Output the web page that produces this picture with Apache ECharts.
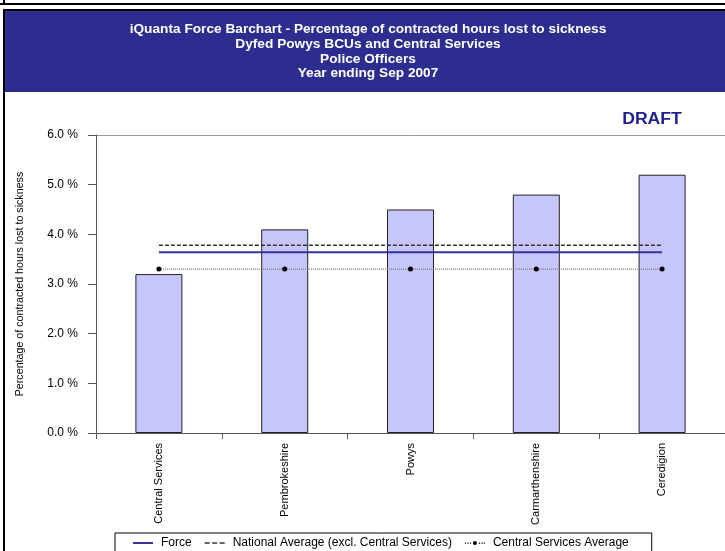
<!DOCTYPE html>
<html><head><meta charset="utf-8">
<script src="https://cdn.jsdelivr.net/npm/echarts@6/dist/echarts.min.js"></script>
<style>html,body{margin:0;padding:0;background:#fff;}#c{width:725px;height:551px;}</style>
</head><body><div id="c"></div>
<script>
const categories = ['Central Services', 'Pembrokeshire', 'Powys', 'Carmarthenshire', 'Ceredigion'];
const sicknessPct = [3.2, 4.1, 4.5, 4.8, 5.2];
const forceAvg = [3.64, 3.64, 3.64, 3.64, 3.64];
const nationalAvg = [3.78, 3.78, 3.78, 3.78, 3.78];
const centralAvg = [3.3, 3.3, 3.3, 3.3, 3.3];
const yTicks = [0, 1, 2, 3, 4, 5, 6];
const titleLines = ['iQuanta Force Barchart - Percentage of contracted hours lost to sickness', 'Dyfed Powys BCUs and Central Services', 'Police Officers', 'Year ending Sep 2007'];

const FONT = '"Liberation Sans", Arial, sans-serif';
const chart = echarts.init(document.getElementById('c'), null, {renderer: 'canvas'});
const graphics = [
  {type: 'line', shape: {x1: 0, y1: 4, x2: 725, y2: 4}, style: {stroke: '#000', lineWidth: 2}},
  {type: 'line', shape: {x1: 4, y1: 0, x2: 4, y2: 4}, style: {stroke: '#000', lineWidth: 2}},
  {type: 'rect', shape: {x: 4, y: 10, width: 740, height: 560}, style: {fill: 'none', stroke: '#000', lineWidth: 2}},
  {type: 'rect', shape: {x: 5, y: 11, width: 725, height: 81}, style: {fill: '#2D2D8F'}},
  {type: 'text', x: 652, y: 120, scaleX: 1.1, style: {text: 'DRAFT', fill: '#1E1E8C', font: 'bold 16px ' + FONT, align: 'center', verticalAlign: 'middle'}}
];
titleLines.forEach((t, i) => {
  graphics.push({type: 'text', x: 368, y: 30 + i * 14.6, scaleX: 1.14, style: {text: t, fill: '#fff', font: 'bold 12px ' + FONT, align: 'center', verticalAlign: 'middle'}});
});

const speckTop = 'M0,0h0.01v0.01h-0.01z ';
const speckBot = ' M19.99,7.99h0.01v0.01h-0.01z';
const iconForce = 'path://' + speckTop + 'M0,3h20v2h-20z' + speckBot;
const iconNational = 'path://' + speckTop + 'M0,3.2h5v1.6h-5z M7.5,3.2h5v1.6h-5z M15,3.2h5v1.6h-5z' + speckBot;
const iconCentral = 'path://' + speckTop + 'M0,3.5h1.2v1.2h-1.2z M2.5,3.5h1.2v1.2h-1.2z M5,3.5h1.2v1.2h-1.2z M14,3.5h1.2v1.2h-1.2z M16.5,3.5h1.2v1.2h-1.2z M18.8,3.5h1.2v1.2h-1.2z M8,4a2,2 0 1,0 4,0a2,2 0 1,0 -4,0z' + speckBot;

chart.setOption({
  animation: false,
  textStyle: {fontFamily: FONT},
  graphic: graphics,
  grid: {left: 96, top: 135, width: 632, height: 298},
  legend: {
    data: [
      {name: 'Force', icon: iconForce},
      {name: 'National Average (excl. Central Services)', icon: iconNational},
      {name: 'Central Services Average', icon: iconCentral}
    ],
    left: 115, top: 533,
    borderColor: '#000', borderWidth: 1, padding: [4, 23, 10, 18],
    itemWidth: 20, itemHeight: 8, itemGap: 13,
    textStyle: {fontSize: 12, color: '#000', fontFamily: FONT, padding: [0, 0, 0, 3]}
  },
  xAxis: {
    type: 'category', data: categories, boundaryGap: true,
    axisLine: {lineStyle: {color: '#555'}},
    axisTick: {show: true, interval: 0, length: 6, lineStyle: {color: '#555'}},
    axisLabel: {rotate: 90, interval: 0, fontSize: 11, color: '#000', margin: 10, fontFamily: FONT}
  },
  yAxis: {
    type: 'value', min: yTicks[0], max: yTicks[yTicks.length - 1], interval: 1,
    name: 'Percentage of contracted hours lost to sickness', nameLocation: 'middle', nameRotate: 90, nameGap: 70,
    nameTextStyle: {fontSize: 10.7, color: '#000', fontFamily: FONT},
    axisLine: {show: true, lineStyle: {color: '#555'}},
    axisTick: {show: true, length: 8, lineStyle: {color: '#555'}},
    axisLabel: {formatter: v => v.toFixed(1) + ' %', fontSize: 12, color: '#000', margin: 18, fontFamily: FONT},
    splitLine: {show: true, lineStyle: {color: ['rgba(0,0,0,0)', 'rgba(0,0,0,0)', 'rgba(0,0,0,0)', 'rgba(0,0,0,0)', 'rgba(0,0,0,0)', 'rgba(0,0,0,0)', '#999']}}
  },
  series: [
    {type: 'bar', name: 'Sickness', data: sicknessPct, barWidth: 47, itemStyle: {color: '#C6C6FC', borderColor: '#222', borderWidth: 1}, z: 1},
    {type: 'line', name: 'National Average (excl. Central Services)', data: nationalAvg, symbol: 'none', lineStyle: {color: '#333', width: 1.5, type: [4, 2]}, itemStyle: {color: '#333'}, z: 3},
    {type: 'line', name: 'Force', data: forceAvg, symbol: 'none', lineStyle: {color: '#333399', width: 2}, itemStyle: {color: '#333399'}, z: 4},
    {type: 'line', name: 'Central Services Average', data: centralAvg, symbol: 'circle', symbolSize: 5, lineStyle: {color: '#777', width: 1.2, type: [1, 1]}, itemStyle: {color: '#000'}, z: 3}
  ]
});
</script></body></html>
